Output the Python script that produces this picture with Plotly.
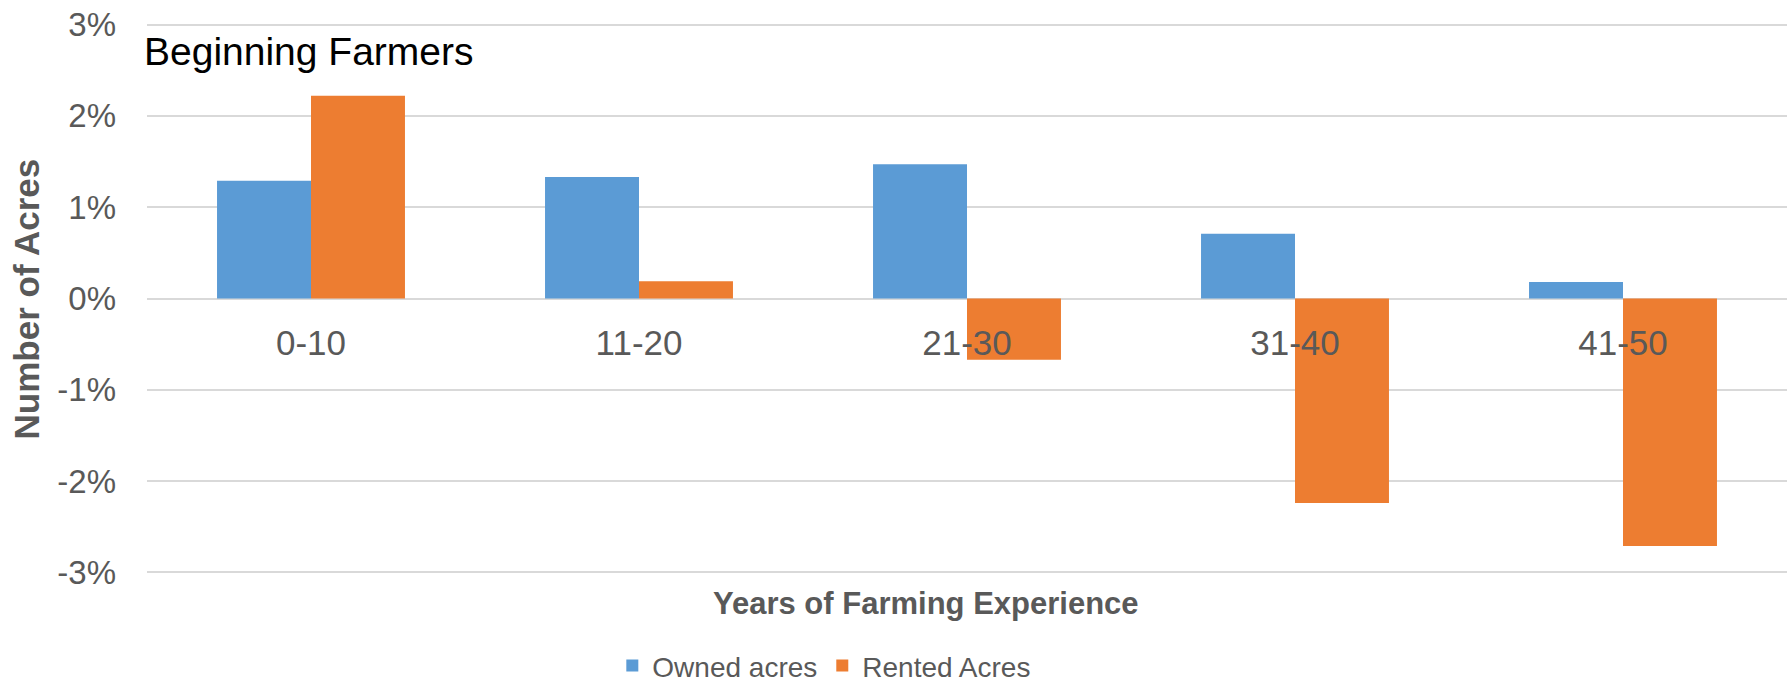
import plotly.graph_objects as go

# Change in acres by years of farming experience (percent)
experience = ["0-10", "11-20", "21-30", "31-40", "41-50"]
owned_acres = [1.29, 1.33, 1.47, 0.71, 0.18]
rented_acres = [2.22, 0.19, -0.67, -2.24, -2.71]
y_ticks = [-3, -2, -1, 0, 1, 2, 3]
y_tick_labels = ["-3%", "-2%", "-1%", "0%", "1%", "2%", "3%"]

BLUE = "#5B9BD5"
ORANGE = "#ED7D31"
GREY_TEXT = "#595959"
GRID = "#D9D9D9"
FONT = "Liberation Sans, Arial, sans-serif"

fig = go.Figure()
fig.add_trace(go.Bar(name="Owned acres", x=experience, y=owned_acres,
                     marker=dict(color=BLUE, line=dict(width=0))))
fig.add_trace(go.Bar(name="Rented Acres", x=experience, y=rented_acres,
                     marker=dict(color=ORANGE, line=dict(width=0))))

fig.update_layout(
    width=1792, height=688,
    margin=dict(l=147, r=5, t=21, b=112, autoexpand=False),
    paper_bgcolor="white", plot_bgcolor="white",
    barmode="group", bargap=0.427, bargroupgap=0,
    font=dict(family=FONT, color=GREY_TEXT),
    showlegend=True,
    legend=dict(orientation="h", x=0.413, xanchor="center",
                y=-0.162, yanchor="middle",
                font=dict(size=28, color=GREY_TEXT),
                itemwidth=30, tracegroupgap=0),
    xaxis=dict(
        anchor="free", position=0.5,
        showgrid=False, showline=False, zeroline=False,
        ticks="", tickfont=dict(size=35, color=GREY_TEXT),
        ticklabelstandoff=20,
    ),
    yaxis=dict(
        range=[-3.04, 3.04], tickvals=y_ticks, ticktext=y_tick_labels,
        showgrid=True, gridcolor=GRID, gridwidth=1.5,
        zeroline=True, zerolinecolor=GRID, zerolinewidth=1.5,
        showline=False, ticks="",
        tickfont=dict(size=33, color=GREY_TEXT),
        ticklabelstandoff=30,
    ),
    annotations=[
        dict(text="Beginning Farmers", xref="paper", yref="paper",
             x=-0.003, y=0.945, xanchor="left", yanchor="middle",
             showarrow=False, font=dict(size=39, color="black", family=FONT)),
        dict(text="<b>Number of Acres</b>", xref="paper", yref="paper",
             x=-0.0732, y=0.5, xanchor="center", yanchor="middle",
             textangle=-90, showarrow=False,
             font=dict(size=35, color=GREY_TEXT, family=FONT)),
        dict(text="<b>Years of Farming Experience</b>", xref="paper", yref="paper",
             x=0.475, y=-0.05, xanchor="center", yanchor="middle",
             showarrow=False, font=dict(size=31, color=GREY_TEXT, family=FONT)),
    ],
)

fig.write_html("out.html")
